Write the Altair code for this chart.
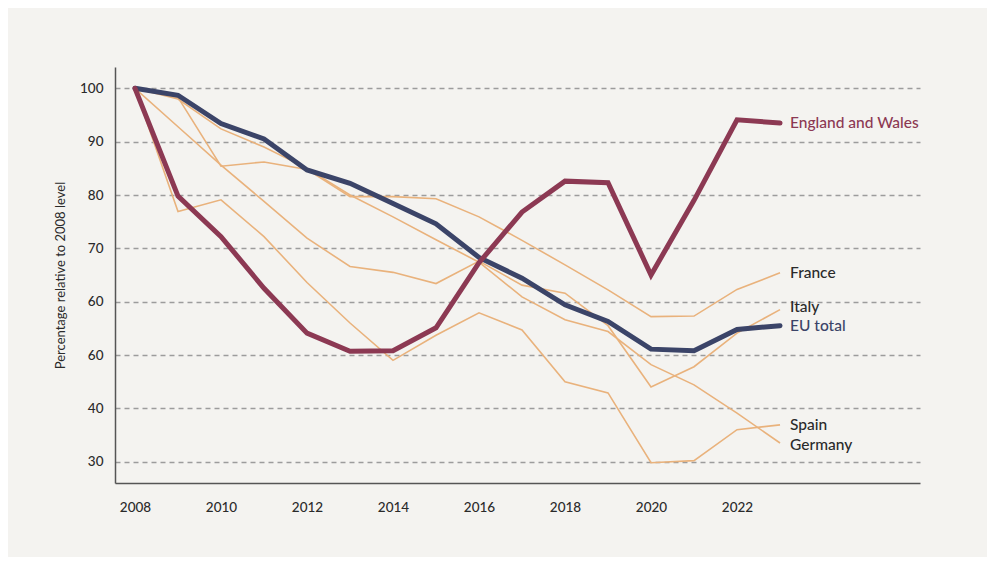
import altair as alt
import pandas as pd

years = list(range(2008, 2024))
england_wales = [100, 79.8, 72.2, 62.5, 54.1, 50.7, 50.8, 55.1, 67.3, 76.8, 82.6, 82.3, 65.0, 79.0, 94.1, 93.5]
eu_total = [100, 98.7, 93.4, 90.5, 84.7, 82.2, 78.4, 74.6, 68.3, 64.4, 59.4, 56.3, 51.1, 50.8, 54.8, 55.5]
france = [100, 98.3, 85.4, 86.2, 84.8, 79.7, 79.7, 79.3, 75.9, 71.5, 66.9, 62.2, 57.2, 57.3, 62.3, 65.4]
italy = [100, 92.8, 85.6, 78.8, 71.9, 66.6, 65.5, 63.4, 67.6, 63.1, 61.6, 55.5, 44.0, 47.8, 54.1, 58.5]
spain = [100, 76.9, 79.1, 72.2, 63.6, 56.0, 49.0, 53.7, 57.9, 54.7, 45.0, 42.9, 29.8, 30.2, 36.0, 36.9]
germany = [100, 98.0, 92.4, 89.0, 85.0, 80.0, 75.9, 71.6, 67.4, 60.9, 56.6, 54.4, 48.2, 44.4, 39.1, 33.5]

series_names = ["France", "Italy", "Spain", "Germany", "EU total", "England and Wales"]
series_values = [france, italy, spain, germany, eu_total, england_wales]
x_ticks = [2008, 2010, 2012, 2014, 2016, 2018, 2020, 2022]
y_ticks = [30, 40, 50, 60, 70, 80, 90, 100]

ORANGE = "#e9b27c"
NAVY = "#3b4468"
RED = "#8c3953"
TEXT = "#2a2a2a"

rows = []
for order, (name, vals) in enumerate(zip(series_names, series_values)):
    for yr, v in zip(years, vals):
        rows.append({"series": name, "year": yr, "value": v, "order": order})
df = pd.DataFrame(rows)
last = df[df["year"] == years[-1]]

x = alt.X("year:Q",
          scale=alt.Scale(domain=[2007.535, 2026.255], nice=False, zero=False),
          axis=alt.Axis(values=x_ticks, format="d", title=None, grid=False, ticks=False,
                        labelPadding=17, labelFontSize=13.5, labelColor=TEXT, labelFont="Lato",
                        labelFontWeight=500,
                        domainColor="#555555", domainWidth=1.5))
y = alt.Y("value:Q",
          scale=alt.Scale(domain=[26, 104], nice=False, zero=False),
          axis=alt.Axis(values=y_ticks, title="Percentage relative to 2008 level",
                        labelExpr="datum.value == 50 ? '60' : datum.label",
                        grid=True, gridDash=[5, 4], gridColor="#9c9c9c", gridWidth=1.3,
                        ticks=False, labelPadding=12, labelFontSize=13.5, labelColor=TEXT,
                        labelFont="Lato", labelFontWeight=500, titleFont="Lato", titleFontSize=13,
                        titleFontWeight="normal", titleColor=TEXT, titlePadding=12,
                        domainColor="#555555", domainWidth=1.5))

base = alt.Chart(df)

thin = base.transform_filter("datum.order < 4").mark_line(
    color=ORANGE, strokeWidth=1.6, strokeJoin="miter"
).encode(x=x, y=y, detail="series:N")

eu = base.transform_filter("datum.series == 'EU total'").mark_line(
    color=NAVY, strokeWidth=5, strokeJoin="miter", strokeCap="round"
).encode(x=x, y=y)

ew = base.transform_filter("datum.series == 'England and Wales'").mark_line(
    color=RED, strokeWidth=5, strokeJoin="miter", strokeCap="round"
).encode(x=x, y=y)

text_color = alt.Color("series:N", legend=None,
                       scale=alt.Scale(domain=series_names,
                                       range=[TEXT, TEXT, TEXT, TEXT, NAVY, RED]))

label_kw = dict(align="left", baseline="middle", dx=10, font="Lato", fontSize=15.5, fontWeight=500)

labels = alt.Chart(last).transform_filter(
    "datum.series != 'Italy' && datum.series != 'Germany'"
).mark_text(**label_kw).encode(x="year:Q", y="value:Q", text="series:N", color=text_color)

italy_label = alt.Chart(last).transform_filter("datum.series == 'Italy'").mark_text(
    dy=-3, **label_kw
).encode(x="year:Q", y="value:Q", text="series:N", color=text_color)

germany_label = alt.Chart(last).transform_filter("datum.series == 'Germany'").mark_text(
    dy=2, **label_kw
).encode(x="year:Q", y="value:Q", text="series:N", color=text_color)

chart = alt.layer(thin, eu, ew, labels, italy_label, germany_label).properties(
    width=805, height=416,
    autosize=alt.AutoSizeParams(type="none"),
    padding={"left": 107, "top": 59, "right": 67, "bottom": 74},
).configure(background="#f4f3f0").configure_view(stroke=None)

chart.save("out.html", embed_options={"renderer": "svg", "actions": False})
